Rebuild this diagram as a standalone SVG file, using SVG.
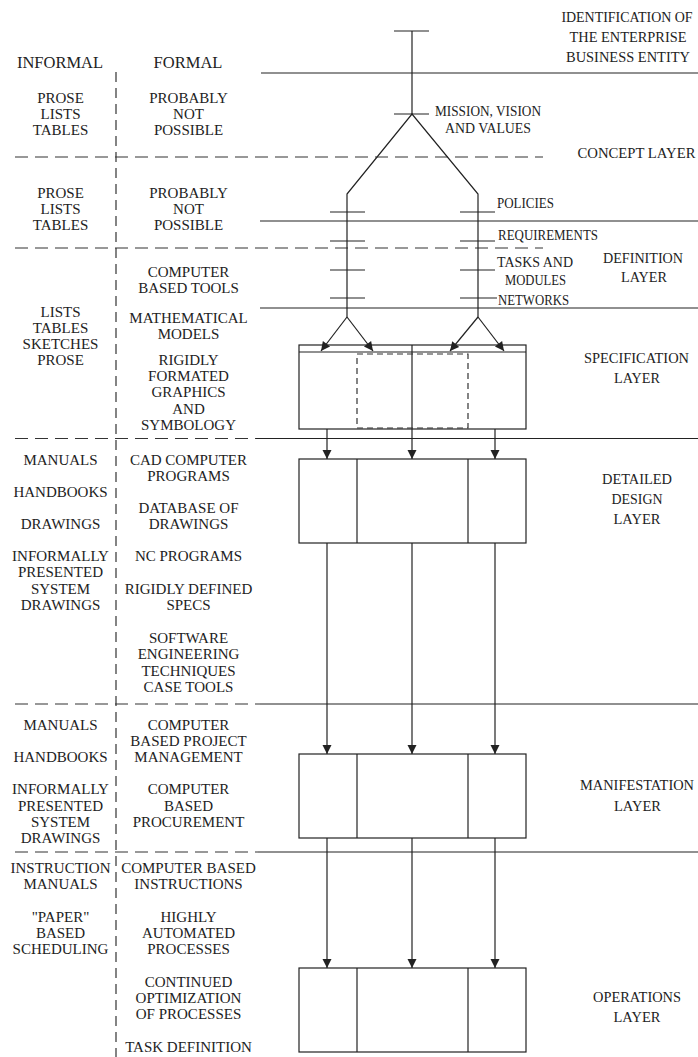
<svg xmlns="http://www.w3.org/2000/svg" width="698" height="1057" viewBox="0 0 698 1057">
<style>
  text { font-family: "Liberation Serif", "Times New Roman", serif; fill: #222; }
  .hd { font-size: 16.5px; text-anchor: middle; }
  .inf { font-size: 15px; text-anchor: middle; }
  .frm { font-size: 15px; text-anchor: middle; }
  .lab { font-size: 15px; }
  .lay { font-size: 15px; text-anchor: middle; }
  .ln { stroke: #222; stroke-width: 1.2; fill: none; }
  .dash { stroke: #333; stroke-width: 1.2; fill: none; stroke-dasharray: 13 7; }
  .vdash { stroke: #333; stroke-width: 1.2; fill: none; stroke-dasharray: 10 6; }
  .box { stroke: #222; stroke-width: 1.2; fill: #fff; }
  .arr { stroke: #222; stroke-width: 1.2; fill: none; marker-end: url(#ah); }
</style>
<defs>
  <marker id="ah" markerUnits="userSpaceOnUse" markerWidth="12" markerHeight="12" viewBox="-10 -6 12 12" refX="0" refY="0" orient="auto">
    <path d="M-9,-4.5 L0,0 L-9,4.5 z" fill="#222"/>
  </marker>
</defs>
<rect x="0" y="0" width="698" height="1057" fill="#fff"/>

<!-- layer separators -->
<g id="separators">
  <line class="ln" x1="261" y1="73" x2="698" y2="73"/>
  <line class="dash" x1="15" y1="157" x2="543" y2="157"/>
  <line class="ln" x1="260" y1="221" x2="698" y2="221"/>
  <line class="dash" x1="15" y1="248" x2="543" y2="248"/>
  <line class="ln" x1="260" y1="308" x2="698" y2="308"/>
  <line class="dash" x1="15" y1="438.5" x2="256" y2="438.5"/>
  <line class="ln" x1="256" y1="438.5" x2="698" y2="438.5"/>
  <line class="dash" x1="15" y1="704" x2="260" y2="704"/>
  <line class="ln" x1="260" y1="704" x2="698" y2="704"/>
  <line class="dash" x1="15" y1="852" x2="258" y2="852"/>
  <line class="ln" x1="258" y1="852" x2="698" y2="852"/>
  <line class="vdash" x1="116" y1="72" x2="116" y2="1057"/>
</g>

<!-- column headers -->
<g id="headers">
  <text class="hd" x="60" y="68">INFORMAL</text>
  <text class="hd" x="188" y="68">FORMAL</text>
</g>

<!-- informal column cells -->
<g id="informal-concept">
  <text class="inf" x="60.5" y="103">PROSE</text>
  <text class="inf" x="60.5" y="119">LISTS</text>
  <text class="inf" x="60.5" y="135">TABLES</text>
</g>
<g id="informal-definition">
  <text class="inf" x="60.5" y="198">PROSE</text>
  <text class="inf" x="60.5" y="214">LISTS</text>
  <text class="inf" x="60.5" y="230">TABLES</text>
</g>
<g id="informal-specification">
  <text class="inf" x="60.5" y="317">LISTS</text>
  <text class="inf" x="60.5" y="333">TABLES</text>
  <text class="inf" x="60.5" y="349">SKETCHES</text>
  <text class="inf" x="60.5" y="365">PROSE</text>
</g>
<g id="informal-detailed">
  <text class="inf" x="60.5" y="465">MANUALS</text>
  <text class="inf" x="60.5" y="497">HANDBOOKS</text>
  <text class="inf" x="60.5" y="529">DRAWINGS</text>
  <text class="inf" x="60.5" y="561">INFORMALLY</text>
  <text class="inf" x="60.5" y="577">PRESENTED</text>
  <text class="inf" x="60.5" y="594">SYSTEM</text>
  <text class="inf" x="60.5" y="610">DRAWINGS</text>
</g>
<g id="informal-manifestation">
  <text class="inf" x="60.5" y="730">MANUALS</text>
  <text class="inf" x="60.5" y="762">HANDBOOKS</text>
  <text class="inf" x="60.5" y="794">INFORMALLY</text>
  <text class="inf" x="60.5" y="811">PRESENTED</text>
  <text class="inf" x="60.5" y="827">SYSTEM</text>
  <text class="inf" x="60.5" y="843">DRAWINGS</text>
</g>
<g id="informal-operations">
  <text class="inf" x="60.5" y="873">INSTRUCTION</text>
  <text class="inf" x="60.5" y="889">MANUALS</text>
  <text class="inf" x="60.5" y="922">"PAPER"</text>
  <text class="inf" x="60.5" y="938">BASED</text>
  <text class="inf" x="60.5" y="954">SCHEDULING</text>
</g>

<!-- formal column cells -->
<g id="formal-concept">
  <text class="frm" x="188.5" y="103">PROBABLY</text>
  <text class="frm" x="188.5" y="119">NOT</text>
  <text class="frm" x="188.5" y="135">POSSIBLE</text>
</g>
<g id="formal-definition">
  <text class="frm" x="188.5" y="198">PROBABLY</text>
  <text class="frm" x="188.5" y="214">NOT</text>
  <text class="frm" x="188.5" y="230">POSSIBLE</text>
</g>
<g id="formal-specification">
  <text class="frm" x="188.5" y="277">COMPUTER</text>
  <text class="frm" x="188.5" y="293">BASED TOOLS</text>
  <text class="frm" x="188.5" y="323">MATHEMATICAL</text>
  <text class="frm" x="188.5" y="339">MODELS</text>
  <text class="frm" x="188.5" y="365">RIGIDLY</text>
  <text class="frm" x="188.5" y="381">FORMATED</text>
  <text class="frm" x="188.5" y="397">GRAPHICS</text>
  <text class="frm" x="188.5" y="414">AND</text>
  <text class="frm" x="188.5" y="430">SYMBOLOGY</text>
</g>
<g id="formal-detailed">
  <text class="frm" x="188.5" y="465">CAD COMPUTER</text>
  <text class="frm" x="188.5" y="481">PROGRAMS</text>
  <text class="frm" x="188.5" y="513">DATABASE OF</text>
  <text class="frm" x="188.5" y="529">DRAWINGS</text>
  <text class="frm" x="188.5" y="561">NC PROGRAMS</text>
  <text class="frm" x="188.5" y="594">RIGIDLY DEFINED</text>
  <text class="frm" x="188.5" y="610">SPECS</text>
  <text class="frm" x="188.5" y="643">SOFTWARE</text>
  <text class="frm" x="188.5" y="659">ENGINEERING</text>
  <text class="frm" x="188.5" y="676">TECHNIQUES</text>
  <text class="frm" x="188.5" y="692">CASE TOOLS</text>
</g>
<g id="formal-manifestation">
  <text class="frm" x="188.5" y="730">COMPUTER</text>
  <text class="frm" x="188.5" y="746">BASED PROJECT</text>
  <text class="frm" x="188.5" y="762">MANAGEMENT</text>
  <text class="frm" x="188.5" y="794">COMPUTER</text>
  <text class="frm" x="188.5" y="811">BASED</text>
  <text class="frm" x="188.5" y="827">PROCUREMENT</text>
</g>
<g id="formal-operations">
  <text class="frm" x="188.5" y="873">COMPUTER BASED</text>
  <text class="frm" x="188.5" y="889">INSTRUCTIONS</text>
  <text class="frm" x="188.5" y="922">HIGHLY</text>
  <text class="frm" x="188.5" y="938">AUTOMATED</text>
  <text class="frm" x="188.5" y="954">PROCESSES</text>
  <text class="frm" x="188.5" y="987">CONTINUED</text>
  <text class="frm" x="188.5" y="1003">OPTIMIZATION</text>
  <text class="frm" x="188.5" y="1019">OF PROCESSES</text>
  <text class="frm" x="188.5" y="1052">TASK DEFINITION</text>
</g>

<!-- layer names -->
<g id="layer-identification">
  <text class="lay" transform="translate(627,22) scale(0.93,1)" x="0" y="0">IDENTIFICATION OF</text>
  <text class="lay" x="628" y="42" textLength="117" lengthAdjust="spacingAndGlyphs">THE  ENTERPRISE</text>
  <text class="lay" x="628" y="62" textLength="124" lengthAdjust="spacingAndGlyphs">BUSINESS  ENTITY</text>
</g>
<g id="layer-concept">
  <text class="lay" x="636.5" y="158" textLength="118" lengthAdjust="spacingAndGlyphs">CONCEPT  LAYER</text>
</g>
<g id="layer-definition">
  <text class="lay" x="643" y="263" textLength="80" lengthAdjust="spacingAndGlyphs">DEFINITION</text>
  <text class="lay" x="644" y="282" textLength="46" lengthAdjust="spacingAndGlyphs">LAYER</text>
</g>
<g id="layer-specification">
  <text class="lay" x="636.5" y="363" textLength="105" lengthAdjust="spacingAndGlyphs">SPECIFICATION</text>
  <text class="lay" x="637" y="383" textLength="46" lengthAdjust="spacingAndGlyphs">LAYER</text>
</g>
<g id="layer-detailed">
  <text class="lay" x="637" y="484" textLength="70" lengthAdjust="spacingAndGlyphs">DETAILED</text>
  <text class="lay" x="637" y="504" textLength="51" lengthAdjust="spacingAndGlyphs">DESIGN</text>
  <text class="lay" x="637" y="524" textLength="47" lengthAdjust="spacingAndGlyphs">LAYER</text>
</g>
<g id="layer-manifestation">
  <text class="lay" x="637" y="790" textLength="114" lengthAdjust="spacingAndGlyphs">MANIFESTATION</text>
  <text class="lay" x="637.5" y="811" textLength="47" lengthAdjust="spacingAndGlyphs">LAYER</text>
</g>
<g id="layer-operations">
  <text class="lay" x="637" y="1002" textLength="88" lengthAdjust="spacingAndGlyphs">OPERATIONS</text>
  <text class="lay" x="637" y="1022" textLength="47" lengthAdjust="spacingAndGlyphs">LAYER</text>
</g>

<!-- tree labels -->
<g id="label-mission">
  <text class="lab" x="435" y="116" textLength="106" lengthAdjust="spacingAndGlyphs">MISSION, VISION</text>
  <text class="lab" x="445" y="133" textLength="86" lengthAdjust="spacingAndGlyphs">AND  VALUES</text>
</g>
<g id="label-policies">
  <text class="lab" x="497" y="208" textLength="57" lengthAdjust="spacingAndGlyphs">POLICIES</text>
</g>
<g id="label-requirements">
  <text class="lab" x="498" y="240" textLength="100" lengthAdjust="spacingAndGlyphs">REQUIREMENTS</text>
</g>
<g id="label-tasks">
  <text class="lab" x="497" y="267" textLength="76" lengthAdjust="spacingAndGlyphs">TASKS  AND</text>
  <text class="lab" x="505" y="285" textLength="61" lengthAdjust="spacingAndGlyphs">MODULES</text>
</g>
<g id="label-networks">
  <text class="lab" x="498" y="305" textLength="71" lengthAdjust="spacingAndGlyphs">NETWORKS</text>
</g>

<!-- tree marks (ticks) -->
<g id="tree-ticks">
  <line class="ln" x1="394" y1="31" x2="429" y2="31"/>
  <line class="ln" x1="394" y1="114" x2="429" y2="114"/>
  <line class="ln" x1="330" y1="212" x2="365" y2="212"/>
  <line class="ln" x1="460" y1="212" x2="495" y2="212"/>
  <line class="ln" x1="330" y1="241" x2="365" y2="241"/>
  <line class="ln" x1="460" y1="241" x2="495" y2="241"/>
  <line class="ln" x1="330" y1="270" x2="365" y2="270"/>
  <line class="ln" x1="460" y1="270" x2="495" y2="270"/>
  <line class="ln" x1="330" y1="298" x2="365" y2="298"/>
  <line class="ln" x1="460" y1="298" x2="497" y2="298"/>
</g>

<!-- boxes -->
<g id="box-specification">
  <rect class="box" x="299" y="345" width="227" height="84"/>
  <line class="ln" x1="299" y1="352" x2="526" y2="352"/>
  <line class="ln" x1="412" y1="345" x2="412" y2="429"/>
  <rect class="dash" style="stroke-dasharray:6 4" x="357" y="354" width="111" height="74"/>
</g>
<g id="box-detailed">
  <rect class="box" x="299" y="459" width="227" height="84"/>
  <line class="ln" x1="357" y1="459" x2="357" y2="543"/>
  <line class="ln" x1="468" y1="459" x2="468" y2="543"/>
</g>
<g id="box-manifestation">
  <rect class="box" x="299" y="754" width="227" height="84"/>
  <line class="ln" x1="357" y1="754" x2="357" y2="838"/>
  <line class="ln" x1="468" y1="754" x2="468" y2="838"/>
</g>
<g id="box-operations">
  <rect class="box" x="299" y="968" width="227" height="84"/>
  <line class="ln" x1="357" y1="968" x2="357" y2="1052"/>
  <line class="ln" x1="468" y1="968" x2="468" y2="1052"/>
</g>

<!-- connectors -->
<g id="connectors">
  <polyline class="ln" points="412,31 412,114"/>
  <polyline class="ln" points="347,317 347,194 412,114 478,194 478,317"/>
  <line class="arr" x1="347" y1="317" x2="321" y2="351"/>
  <line class="arr" x1="347" y1="317" x2="373" y2="351"/>
  <line class="arr" x1="478" y1="317" x2="450" y2="351"/>
  <line class="arr" x1="478" y1="317" x2="504" y2="351"/>

  <line class="arr" x1="327" y1="429" x2="327" y2="459"/>
  <line class="arr" x1="412" y1="429" x2="412" y2="459"/>
  <line class="arr" x1="495" y1="429" x2="495" y2="459"/>

  <line class="arr" x1="327" y1="543" x2="327" y2="754"/>
  <line class="arr" x1="412" y1="543" x2="412" y2="754"/>
  <line class="arr" x1="495" y1="543" x2="495" y2="754"/>

  <line class="arr" x1="327" y1="838" x2="327" y2="968"/>
  <line class="arr" x1="412" y1="838" x2="412" y2="968"/>
  <line class="arr" x1="495" y1="838" x2="495" y2="968"/>
</g>
</svg>
